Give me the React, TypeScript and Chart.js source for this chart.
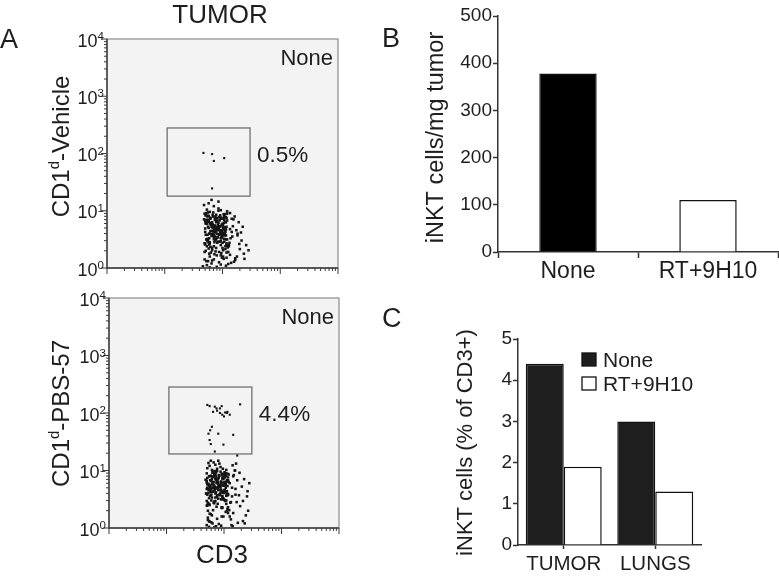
import React, { useEffect, useRef } from 'react';
import { Chart, registerables } from 'chart.js';

Chart.register(...registerables);

const FONT = '"Liberation Sans", Arial, Helvetica, sans-serif';
Chart.defaults.font.family = FONT;
const INK = '#1e1e1e';

// ---------- Panel A : flow cytometry (values in hundredths of a log10 decade, pairs x,y) ----------
const flowDecades = [0, 1, 2, 3, 4];

const vehicleCloud = [
  168,85, 196,62, 176,44, 204,71, 183,93, 171,30, 199,77, 187,55, 207,18, 179,88,
  190,66, 173,49, 201,72, 185,38, 169,95, 194,58, 180,27, 206,80, 175,12, 198,53,
  186,67, 170,41, 203,84, 192,46, 177,60, 208,99, 182,35, 197,22, 172,79, 189,70,
  200,56, 174,90, 188,63, 205,33, 178,45, 193,104, 169,28, 184,64, 202,16, 191,87,
  175,48, 199,75, 181,8, 195,58, 171,92, 207,39, 186,24, 176,81, 203,68, 189,51,
  184,97, 170,43, 197,86, 178,20, 204,61, 188,70, 173,5, 200,35, 180,76, 193,100,
  206,57, 177,41, 194,89, 169,15, 187,74, 201,31, 182,59, 197,47, 172,96, 190,22,
  179,37, 205,69, 185,54, 171,78, 198,26, 176,91, 192,66, 182,13, 208,83, 195,46,
  173,102, 203,59, 188,29, 198,65, 170,82, 194,10, 181,72, 206,50, 185,57, 176,34,
  212,44, 216,63, 210,28, 219,85, 214,52, 222,17, 218,73, 211,38, 226,60, 221,90,
  230,33, 224,66, 215,9, 233,48, 228,80, 237,25, 226,57, 241,40, 222,14, 245,31,
  213,96, 217,55, 220,11, 229,42, 213,68, 235,72, 238,16, 216,86, 225,20, 232,62,
  183,76, 199,64, 190,81, 176,70, 205,63, 171,58, 195,83, 186,74, 201,68, 179,86,
  192,54, 174,58, 207,72, 185,50, 197,66, 180,77, 202,61, 170,69, 189,80, 194,59,
  169,43, 200,60, 184,90, 204,65, 177,52, 196,92, 188,48, 173,84, 191,53, 207,43,
  210,7, 199,18, 208,50, 197,101, 202,79, 211,40, 200,60, 206,4, 209,36, 213,23,
  168,110, 176,113, 185,108, 193,116, 181,119, 172,12, 166,3, 190,2, 178,1, 197,6,
  187,86, 203,91, 178,78, 196,73, 172,82, 191,83, 206,67, 183,70, 199,55, 175,72,
  193,70, 171,78, 198,61, 180,76, 204,57, 186,68, 176,84, 201,86, 189,93, 182,80,
  178,60, 196,66, 185,73, 207,87, 174,47, 192,72, 181,79, 203,46, 188,89, 170,63,
  186,62, 201,75, 176,81, 194,67, 183,59, 208,95, 172,50, 197,88, 190,71, 179,64,
  205,80, 181,56, 193,70, 175,97, 199,62, 188,68, 170,84, 203,51, 184,90, 196,73,
  190,60, 173,77, 202,88, 186,45, 178,98, 195,73, 207,41, 181,65, 198,52, 176,84,
  184,57, 199,66, 171,92, 192,75, 205,38, 179,87, 196,61, 188,69, 175,91, 202,94,
  197,52, 182,76, 206,89, 187,84, 174,51, 200,44, 185,63, 193,79, 178,43, 204,94,
  189,35, 194,28, 201,20, 177,25, 185,15, 197,40, 182,31, 207,27, 173,38, 191,44,
];
const vehicleGateEvents = [167,201, 182,199, 185,187, 203,192, 182,139];

const pbsCloud = [
  170,82, 193,66, 185,47, 203,91, 178,58, 196,35, 182,75, 207,88, 174,52, 199,20,
  188,70, 172,41, 201,95, 180,63, 195,50, 168,84, 205,29, 184,98, 191,73, 176,56,
  198,87, 182,44, 170,68, 204,101, 187,37, 194,61, 177,24, 201,79, 185,53, 173,66,
  191,92, 206,33, 179,77, 197,55, 172,14, 189,85, 202,47, 183,71, 169,60, 194,106,
  176,73, 200,49, 186,86, 171,39, 205,64, 181,31, 196,94, 188,57, 203,80, 175,11,
  192,58, 178,82, 207,26, 184,67, 170,95, 199,51, 187,84, 174,42, 203,74, 190,66,
  180,89, 204,48, 173,77, 197,36, 186,84, 169,60, 201,97, 183,43, 193,71, 177,63,
  210,78, 214,55, 209,31, 217,92, 212,15, 220,68, 211,44, 223,83, 216,26, 219,100,
  226,57, 231,72, 228,38, 235,85, 238,22, 241,64, 233,47, 244,78, 224,9, 242,30,
  221,112, 213,5, 215,3, 236,8, 222,45, 227,96, 233,12, 215,109, 219,100, 240,55,
  195,78, 179,85, 203,70, 186,62, 171,58, 198,88, 182,73, 207,83, 190,76, 175,67,
  186,86, 200,74, 173,61, 194,72, 180,79, 205,81, 189,69, 176,90, 197,55, 183,93,
  170,5, 174,2, 186,3, 191,7, 178,10, 183,1, 195,4, 172,18, 188,16, 180,8,
  197,94, 199,61, 196,20, 198,103, 201,66, 194,98, 197,35, 202,88, 200,50, 198,74,
  175,108, 182,114, 188,103, 177,117, 185,110, 171,104, 192,112, 179,101, 190,117, 173,113,
  201,66, 182,80, 193,57, 176,64, 205,83, 188,54, 171,76, 197,92, 184,70, 207,94,
  170,39, 183,46, 175,25, 189,42, 172,30, 196,36, 179,22, 203,28, 174,12, 185,60,
  188,81, 203,77, 180,63, 195,67, 172,76, 199,85, 184,94, 207,58, 176,71, 191,88,
  178,48, 198,52, 171,70, 190,80, 204,42, 182,90, 196,50, 187,78, 174,90, 201,64,
  205,60, 208,80, 212,45, 207,36, 214,70, 204,95, 210,20, 216,90, 206,73, 220,58,
  194,75, 178,68, 201,92, 186,69, 170,79, 206,58, 184,72, 197,63, 173,68, 190,86,
  182,89, 199,61, 187,83, 204,56, 176,74, 193,59, 180,99, 208,93, 189,71, 171,87,
  196,64, 180,96, 202,48, 185,86, 174,73, 205,57, 188,81, 177,91, 192,74, 199,79,
  179,53, 195,81, 172,44, 203,77, 186,96, 176,83, 199,74, 183,65, 207,59, 190,51,
  184,99, 202,62, 186,91, 175,40, 197,86, 192,91, 180,70, 206,57, 170,47, 188,99,
];
const pbsGateEvents = [
  171,214, 175,212, 184,211, 188,204, 193,200, 197,197, 200,194, 205,200, 210,197, 228,215,
  196,212, 187,208, 179,176, 176,170, 173,164, 190,164, 216,162, 175,153, 177,146, 199,145,
  184,133, 223,126, 193,208, 202,201, 206,202, 181,202,
];

// gates: [xMin, xMax, yMin, yMax] in fluorescence units
const vehicleGate = [11, 300, 18, 279];
const pbsGate = [11, 305, 19.4, 283];
const vehiclePct = '0.5%';
const pbsPct = '4.4%';
const flowTreatment = 'None';
const vehicleYTitle = ['CD1', 'd', '-Vehicle'];
const pbsYTitle = ['CD1', 'd', '-PBS-57'];
const flowXTitle = 'CD3';
const flowTitle = 'TUMOR';

// ---------- Panel B ----------
const bCategories = ['None', 'RT+9H10'];
const bValues = [378, 110];
const bTitle = 'iNKT cells/mg tumor';

// ---------- Panel C ----------
const cCategories = ['TUMOR', 'LUNGS'];
const cSeriesNames = ['None', 'RT+9H10'];
const cNone = [4.4, 3.0];
const cRT = [1.9, 1.3];
const cTitle = 'iNKT cells (% of CD3+)';

function toPoints(arr: number[]) {
  const out: { x: number; y: number }[] = [];
  for (let i = 0; i < arr.length; i += 2) out.push({ x: Math.pow(10, arr[i] / 100), y: Math.pow(10, arr[i + 1] / 100) });
  return out;
}

function drawRotated(ctx: CanvasRenderingContext2D, parts: string[], cx: number, cy: number, size: number) {
  ctx.save();
  const supSize = Math.round(size * 0.62);
  let total = 0;
  parts.forEach((p, i) => {
    ctx.font = `${i % 2 === 1 ? supSize : size}px ${FONT}`;
    total += ctx.measureText(p).width;
  });
  ctx.translate(cx, cy);
  ctx.rotate(-Math.PI / 2);
  ctx.fillStyle = INK;
  ctx.textBaseline = 'alphabetic';
  ctx.textAlign = 'left';
  let x = -total / 2;
  parts.forEach((p, i) => {
    const sup = i % 2 === 1;
    ctx.font = `${sup ? supSize : size}px ${FONT}`;
    ctx.fillText(p, x, sup ? -size * 0.42 : 0);
    x += ctx.measureText(p).width;
  });
  ctx.restore();
}

type FlowCfg = {
  gate: number[];
  pct: string;
  yTitle: string[];
  yTitleX: number;
  yTitleY: number;
  title?: string;
  letter?: string;
  xTitle?: string;
};

function makeFlowPlugin(cfg: FlowCfg) {
  return {
    id: 'flowDecor',
    beforeDatasetsDraw(chart: any) {
      const { ctx, chartArea: a, scales } = chart;
      const x = scales.x, y = scales.y;
      ctx.save();
      ctx.fillStyle = '#f3f3f3';
      ctx.fillRect(a.left, a.top, a.right - a.left, a.bottom - a.top);
      const gx1 = x.getPixelForValue(cfg.gate[0]);
      const gx2 = x.getPixelForValue(cfg.gate[1]);
      const gy1 = y.getPixelForValue(cfg.gate[2]);
      const gy2 = y.getPixelForValue(cfg.gate[3]);
      ctx.strokeStyle = '#707070';
      ctx.lineWidth = 1.3;
      ctx.strokeRect(gx1, gy2, gx2 - gx1, gy1 - gy2);
      ctx.restore();
    },
    afterDraw(chart: any) {
      const { ctx, chartArea: a, scales } = chart;
      const x = scales.x, y = scales.y;
      ctx.save();
      ctx.strokeStyle = '#8c8c8c';
      ctx.lineWidth = 1.2;
      ctx.strokeRect(a.left, a.top, a.right - a.left, a.bottom - a.top);
      ctx.strokeStyle = '#3a3a3a';
      ctx.lineWidth = 1.4;
      ctx.beginPath();
      ctx.moveTo(a.left, a.top);
      ctx.lineTo(a.left, a.bottom);
      ctx.lineTo(a.right, a.bottom);
      ctx.stroke();
      ctx.lineWidth = 1;
      ctx.beginPath();
      flowDecades.forEach((e) => {
        for (let k = 1; k <= 9; k++) {
          if (e === flowDecades[flowDecades.length - 1] && k > 1) break;
          const v = k * Math.pow(10, e);
          const len = k === 1 ? 6 : 3;
          const py = y.getPixelForValue(v);
          ctx.moveTo(a.left - len, py);
          ctx.lineTo(a.left, py);
          const px = x.getPixelForValue(v);
          ctx.moveTo(px, a.bottom);
          ctx.lineTo(px, a.bottom + len);
        }
      });
      ctx.stroke();
      ctx.fillStyle = INK;
      flowDecades.forEach((e) => {
        const py = y.getPixelForValue(Math.pow(10, e));
        ctx.font = `18px ${FONT}`;
        ctx.textAlign = 'right';
        ctx.textBaseline = 'alphabetic';
        ctx.fillText('10', a.left - 9.5, py + 7.5);
        ctx.font = `11.5px ${FONT}`;
        ctx.textAlign = 'left';
        ctx.fillText(String(e), a.left - 9.5, py + 1);
      });
      ctx.font = `22px ${FONT}`;
      ctx.textAlign = 'right';
      ctx.fillText(flowTreatment, a.right - 5, a.top + 26);
      ctx.font = `22.5px ${FONT}`;
      ctx.textAlign = 'left';
      ctx.fillText(cfg.pct, x.getPixelForValue(cfg.gate[1]) + 7, y.getPixelForValue(100) + 8);
      if (cfg.title) {
        ctx.font = `26px ${FONT}`;
        ctx.textAlign = 'center';
        ctx.fillText(cfg.title, 220, 23);
      }
      if (cfg.letter) {
        ctx.font = `27px ${FONT}`;
        ctx.textAlign = 'left';
        ctx.fillText(cfg.letter, 0, 48);
      }
      if (cfg.xTitle) {
        ctx.font = `26px ${FONT}`;
        ctx.textAlign = 'center';
        ctx.fillText(cfg.xTitle, 222, a.bottom + 35);
      }
      ctx.restore();
      drawRotated(ctx, cfg.yTitle, cfg.yTitleX, cfg.yTitleY, 24);
    },
  };
}

function flowConfig(cloud: number[], gateEvents: number[], padding: any, cfg: FlowCfg): any {
  const logAxis = { type: 'logarithmic', min: 1, max: 10000, display: false };
  return {
    type: 'scatter',
    data: {
      datasets: [
        { label: 'events', data: toPoints(cloud), pointStyle: 'rect', pointRadius: 1.8, borderWidth: 0, backgroundColor: '#151515' },
        { label: 'gated', data: toPoints(gateEvents), pointStyle: 'rect', pointRadius: 1.5, borderWidth: 0, backgroundColor: '#151515' },
      ],
    },
    options: {
      animation: false,
      responsive: false,
      layout: { padding },
      plugins: { legend: { display: false }, tooltip: { enabled: false } },
      scales: { x: { ...logAxis }, y: { ...logAxis } },
    },
    plugins: [makeFlowPlugin(cfg)],
  };
}

function textPlugin(draw: (ctx: CanvasRenderingContext2D, chart: any) => void) {
  return {
    id: 'textDecor',
    afterDraw(chart: any) {
      const ctx = chart.ctx;
      ctx.save();
      draw(ctx, chart);
      ctx.restore();
    },
  };
}

const axisLine = { color: '#333', width: 1.5 };

function barBConfig(): any {
  return {
    type: 'bar',
    data: {
      labels: bCategories,
      datasets: [
        {
          data: bValues,
          backgroundColor: ['#000000', '#ffffff'],
          borderColor: '#111',
          borderWidth: 1.5,
          barPercentage: 0.41,
          categoryPercentage: 1,
        },
      ],
    },
    options: {
      animation: false,
      responsive: false,
      layout: { padding: { left: 0, right: 1, top: 16, bottom: 0 } },
      plugins: { legend: { display: false }, tooltip: { enabled: false } },
      scales: {
        x: {
          grid: { offset: true, drawOnChartArea: false, tickLength: 6, color: '#333', tickColor: '#333', tickWidth: 1.5 },
          border: axisLine,
          ticks: { font: { size: 23 }, color: INK, padding: 0 },
          afterFit: (s: any) => { s.height = 38; },
        },
        y: {
          min: 0,
          max: 500,
          ticks: { stepSize: 100, font: { size: 19 }, color: INK, padding: 1 },
          grid: { drawOnChartArea: false, tickLength: 5, color: '#333', tickColor: '#333', tickWidth: 1.5 },
          border: axisLine,
          afterFit: (s: any) => { s.width = 118; },
        },
      },
    },
    plugins: [
      textPlugin((ctx) => {
        ctx.fillStyle = INK;
        ctx.font = `27px ${FONT}`;
        ctx.textAlign = 'left';
        ctx.fillText('B', 2, 47);
        drawRotated(ctx, [bTitle], 62.5, 137.5, 23.5);
      }),
    ],
  };
}

function barCConfig(): any {
  return {
    type: 'bar',
    data: {
      labels: cCategories,
      datasets: [
        { label: cSeriesNames[0], data: cNone, backgroundColor: '#1e1e1e', borderColor: '#111', borderWidth: 1.5 },
        { label: cSeriesNames[1], data: cRT, backgroundColor: '#ffffff', borderColor: '#111', borderWidth: 1.5 },
      ],
    },
    options: {
      animation: false,
      responsive: false,
      datasets: { bar: { barPercentage: 1, categoryPercentage: 0.83 } },
      layout: { padding: { left: 0, right: 78, top: 49, bottom: 0 } },
      plugins: { legend: { display: false }, tooltip: { enabled: false } },
      scales: {
        x: {
          grid: { offset: false, drawOnChartArea: false, tickLength: 4, color: '#333', tickColor: '#333', tickWidth: 1.5 },
          border: axisLine,
          ticks: { font: { size: 20.5 }, color: INK, padding: 3 },
          afterFit: (s: any) => { s.height = 39; },
        },
        y: {
          min: 0,
          max: 5,
          ticks: { stepSize: 1, font: { size: 19 }, color: INK, padding: 1 },
          grid: { drawOnChartArea: false, tickLength: 5, color: '#333', tickColor: '#333', tickWidth: 1.5 },
          border: axisLine,
          afterFit: (s: any) => { s.width = 138; },
        },
      },
    },
    plugins: [
      textPlugin((ctx, chart) => {
        ctx.fillStyle = INK;
        ctx.font = `27px ${FONT}`;
        ctx.textAlign = 'left';
        ctx.fillText('C', 2, 37);
        drawRotated(ctx, [cTitle], 92, 152.5, 22);
        const tops = [63, 87];
        chart.data.datasets.forEach((ds: any, i: number) => {
          ctx.fillStyle = ds.backgroundColor;
          ctx.fillRect(202, tops[i], 14, 13);
          ctx.strokeStyle = '#111';
          ctx.lineWidth = 1.3;
          ctx.strokeRect(202, tops[i], 14, 13);
          ctx.fillStyle = INK;
          ctx.font = `21px ${FONT}`;
          ctx.textAlign = 'left';
          ctx.textBaseline = 'alphabetic';
          ctx.fillText(ds.label, 223, tops[i] + 14);
        });
      }),
    ],
  };
}

export default function App() {
  const a1 = useRef<HTMLCanvasElement>(null);
  const a2 = useRef<HTMLCanvasElement>(null);
  const b = useRef<HTMLCanvasElement>(null);
  const c = useRef<HTMLCanvasElement>(null);

  useEffect(() => {
    const charts: Chart[] = [];
    charts.push(
      new Chart(
        a1.current as HTMLCanvasElement,
        flowConfig(vehicleCloud, vehicleGateEvents, { left: 107, right: 32, top: 39, bottom: 17 }, {
          gate: vehicleGate,
          pct: vehiclePct,
          yTitle: vehicleYTitle,
          yTitleX: 68.6,
          yTitleY: 146.5,
          title: flowTitle,
          letter: 'A',
        })
      )
    );
    charts.push(
      new Chart(
        a2.current as HTMLCanvasElement,
        flowConfig(pbsCloud, pbsGateEvents, { left: 109, right: 31, top: 13, bottom: 56 }, {
          gate: pbsGate,
          pct: pbsPct,
          yTitle: pbsYTitle,
          yTitleX: 69.4,
          yTitleY: 128.5,
          xTitle: flowXTitle,
        })
      )
    );
    charts.push(new Chart(b.current as HTMLCanvasElement, barBConfig()));
    charts.push(new Chart(c.current as HTMLCanvasElement, barCConfig()));
    return () => charts.forEach((ch) => ch.destroy());
  }, []);

  const abs = (left: number, top: number, w: number, h: number): React.CSSProperties => ({
    position: 'absolute', left, top, width: w, height: h, display: 'block',
  });

  return (
    <div style={{ position: 'fixed', left: 0, top: 0, width: 779, height: 584, background: '#fff', overflow: 'hidden' }}>
      <canvas ref={a1} width={370} height={285} style={abs(0, 0, 370, 285)} />
      <canvas ref={a2} width={370} height={299} style={abs(0, 285, 370, 299)} />
      <canvas ref={b} width={399} height={290} style={abs(380, 0, 399, 290)} />
      <canvas ref={c} width={399} height={294} style={abs(380, 290, 399, 294)} />
    </div>
  );
}
